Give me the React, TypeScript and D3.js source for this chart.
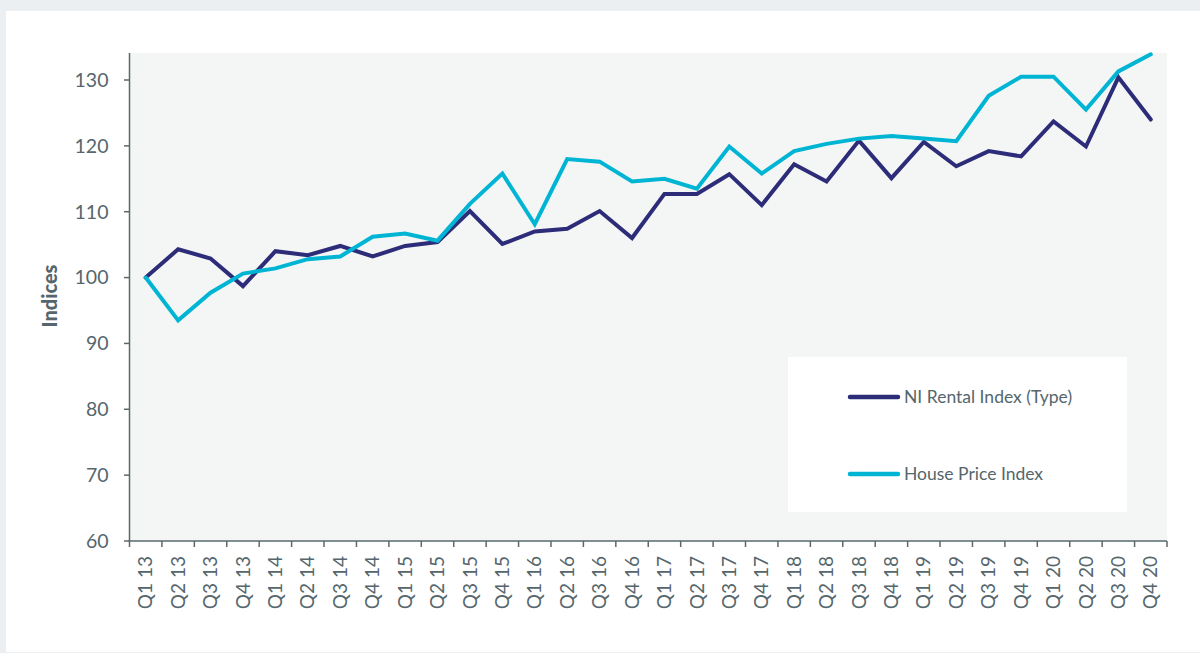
import React from "react";
import * as d3 from "d3";

const quarters = [
  "Q1 13","Q2 13","Q3 13","Q4 13","Q1 14","Q2 14","Q3 14","Q4 14",
  "Q1 15","Q2 15","Q3 15","Q4 15","Q1 16","Q2 16","Q3 16","Q4 16",
  "Q1 17","Q2 17","Q3 17","Q4 17","Q1 18","Q2 18","Q3 18","Q4 18",
  "Q1 19","Q2 19","Q3 19","Q4 19","Q1 20","Q2 20","Q3 20","Q4 20",
];

const rentalIndex = [
  100, 104.3, 102.9, 98.7, 104.0, 103.4, 104.8, 103.2,
  104.8, 105.4, 110.1, 105.1, 107.0, 107.4, 110.1, 106.0,
  112.7, 112.7, 115.7, 111.0, 117.2, 114.6, 120.8, 115.1,
  120.6, 116.9, 119.2, 118.4, 123.7, 119.9, 130.4, 124.0,
];

const housePriceIndex = [
  100, 93.5, 97.7, 100.6, 101.4, 102.8, 103.2, 106.2,
  106.7, 105.6, 111.2, 115.8, 108.1, 118.0, 117.6, 114.6,
  115.0, 113.5, 119.9, 115.8, 119.2, 120.3, 121.1, 121.5,
  121.1, 120.7, 127.6, 130.5, 130.5, 125.5, 131.3, 133.9,
];

const yTicks = [60, 70, 80, 90, 100, 110, 120, 130];

const seriesNames = ["NI Rental Index (Type)", "House Price Index"];
const seriesColors = ["#2d2c79", "#00b5d4"];

const W = 1200;
const H = 653;
const plot = { left: 129.5, right: 1167, top: 53, bottom: 541 };
const textColor = "#55666c";
const axisColor = "#5a696e";
const font = "Lato, 'Open Sans', sans-serif";

export default function App() {
  const x = d3
    .scaleBand<string>()
    .domain(quarters)
    .range([plot.left, plot.right])
    .paddingInner(0)
    .paddingOuter(0);
  const y = d3.scaleLinear().domain([60, 134.1]).range([plot.bottom, plot.top]);

  const line = d3
    .line<number>()
    .x((_, i) => (x(quarters[i]) as number) + x.bandwidth() / 2)
    .y((d) => y(d));

  const series = [rentalIndex, housePriceIndex];
  const boundaries = quarters.map((q) => x(q) as number).concat([plot.right]);

  const legend = { x: 788, y: 357, w: 339, h: 155 };

  return (
    <svg
      width={W}
      height={H}
      viewBox={`0 0 ${W} ${H}`}
      style={{ position: "absolute", left: 0, top: 0, display: "block" }}
      fontFamily={font}
    >
      <rect x={0} y={0} width={W} height={H} fill="#ebeff2" />
      <rect x={6} y={11} width={W - 6} height={641} fill="#ffffff" />
      <rect
        x={plot.left}
        y={plot.top}
        width={plot.right - plot.left}
        height={plot.bottom - plot.top}
        fill="#f4f6f6"
      />

      {/* Y axis */}
      <line x1={plot.left} x2={plot.left} y1={plot.top} y2={plot.bottom} stroke={axisColor} strokeWidth={1.5} />
      {yTicks.map((t) => (
        <g key={t}>
          <line x1={plot.left - 5.5} x2={plot.left} y1={y(t)} y2={y(t)} stroke={axisColor} strokeWidth={1.5} />
          <text
            x={108.5}
            y={y(t)}
            dy="0.35em"
            textAnchor="end"
            fontSize={19.5}
            fill={textColor}
          >
            {t}
          </text>
        </g>
      ))}
      <text
        transform={`translate(57,296) rotate(-90)`}
        textAnchor="middle"
        fontSize={20}
        fontWeight={900}
        fill={textColor}
      >
        Indices
      </text>

      {/* X axis */}
      <line x1={plot.left - 1} x2={plot.right} y1={plot.bottom} y2={plot.bottom} stroke={axisColor} strokeWidth={1.5} />
      {boundaries.map((b, i) => (
        <line key={i} x1={b} x2={b} y1={plot.bottom} y2={plot.bottom + 6} stroke={axisColor} strokeWidth={1.5} />
      ))}
      {quarters.map((q) => {
        const cx = (x(q) as number) + x.bandwidth() / 2;
        return (
          <text
            key={q}
            transform={`translate(${cx},556) rotate(-90)`}
            textAnchor="end"
            dy="0.35em"
            fontSize={19}
            fill={textColor}
          >
            {q}
          </text>
        );
      })}

      {/* Lines */}
      {series.map((s, i) => (
        <path
          key={i}
          d={line(s) as string}
          fill="none"
          stroke={seriesColors[i]}
          strokeWidth={4}
          strokeLinejoin="miter"
          strokeLinecap="round"
        />
      ))}

      {/* Legend */}
      <rect x={legend.x} y={legend.y} width={legend.w} height={legend.h} fill="#ffffff" />
      {seriesNames.map((n, i) => {
        const ly = i === 0 ? 397 : 474;
        return (
          <g key={n}>
            <line x1={850} x2={898} y1={ly} y2={ly} stroke={seriesColors[i]} strokeWidth={4.5} strokeLinecap="round" />
            <text x={904} y={ly} dy="0.35em" fontSize={17.5} fill={textColor}>
              {n}
            </text>
          </g>
        );
      })}
    </svg>
  );
}
